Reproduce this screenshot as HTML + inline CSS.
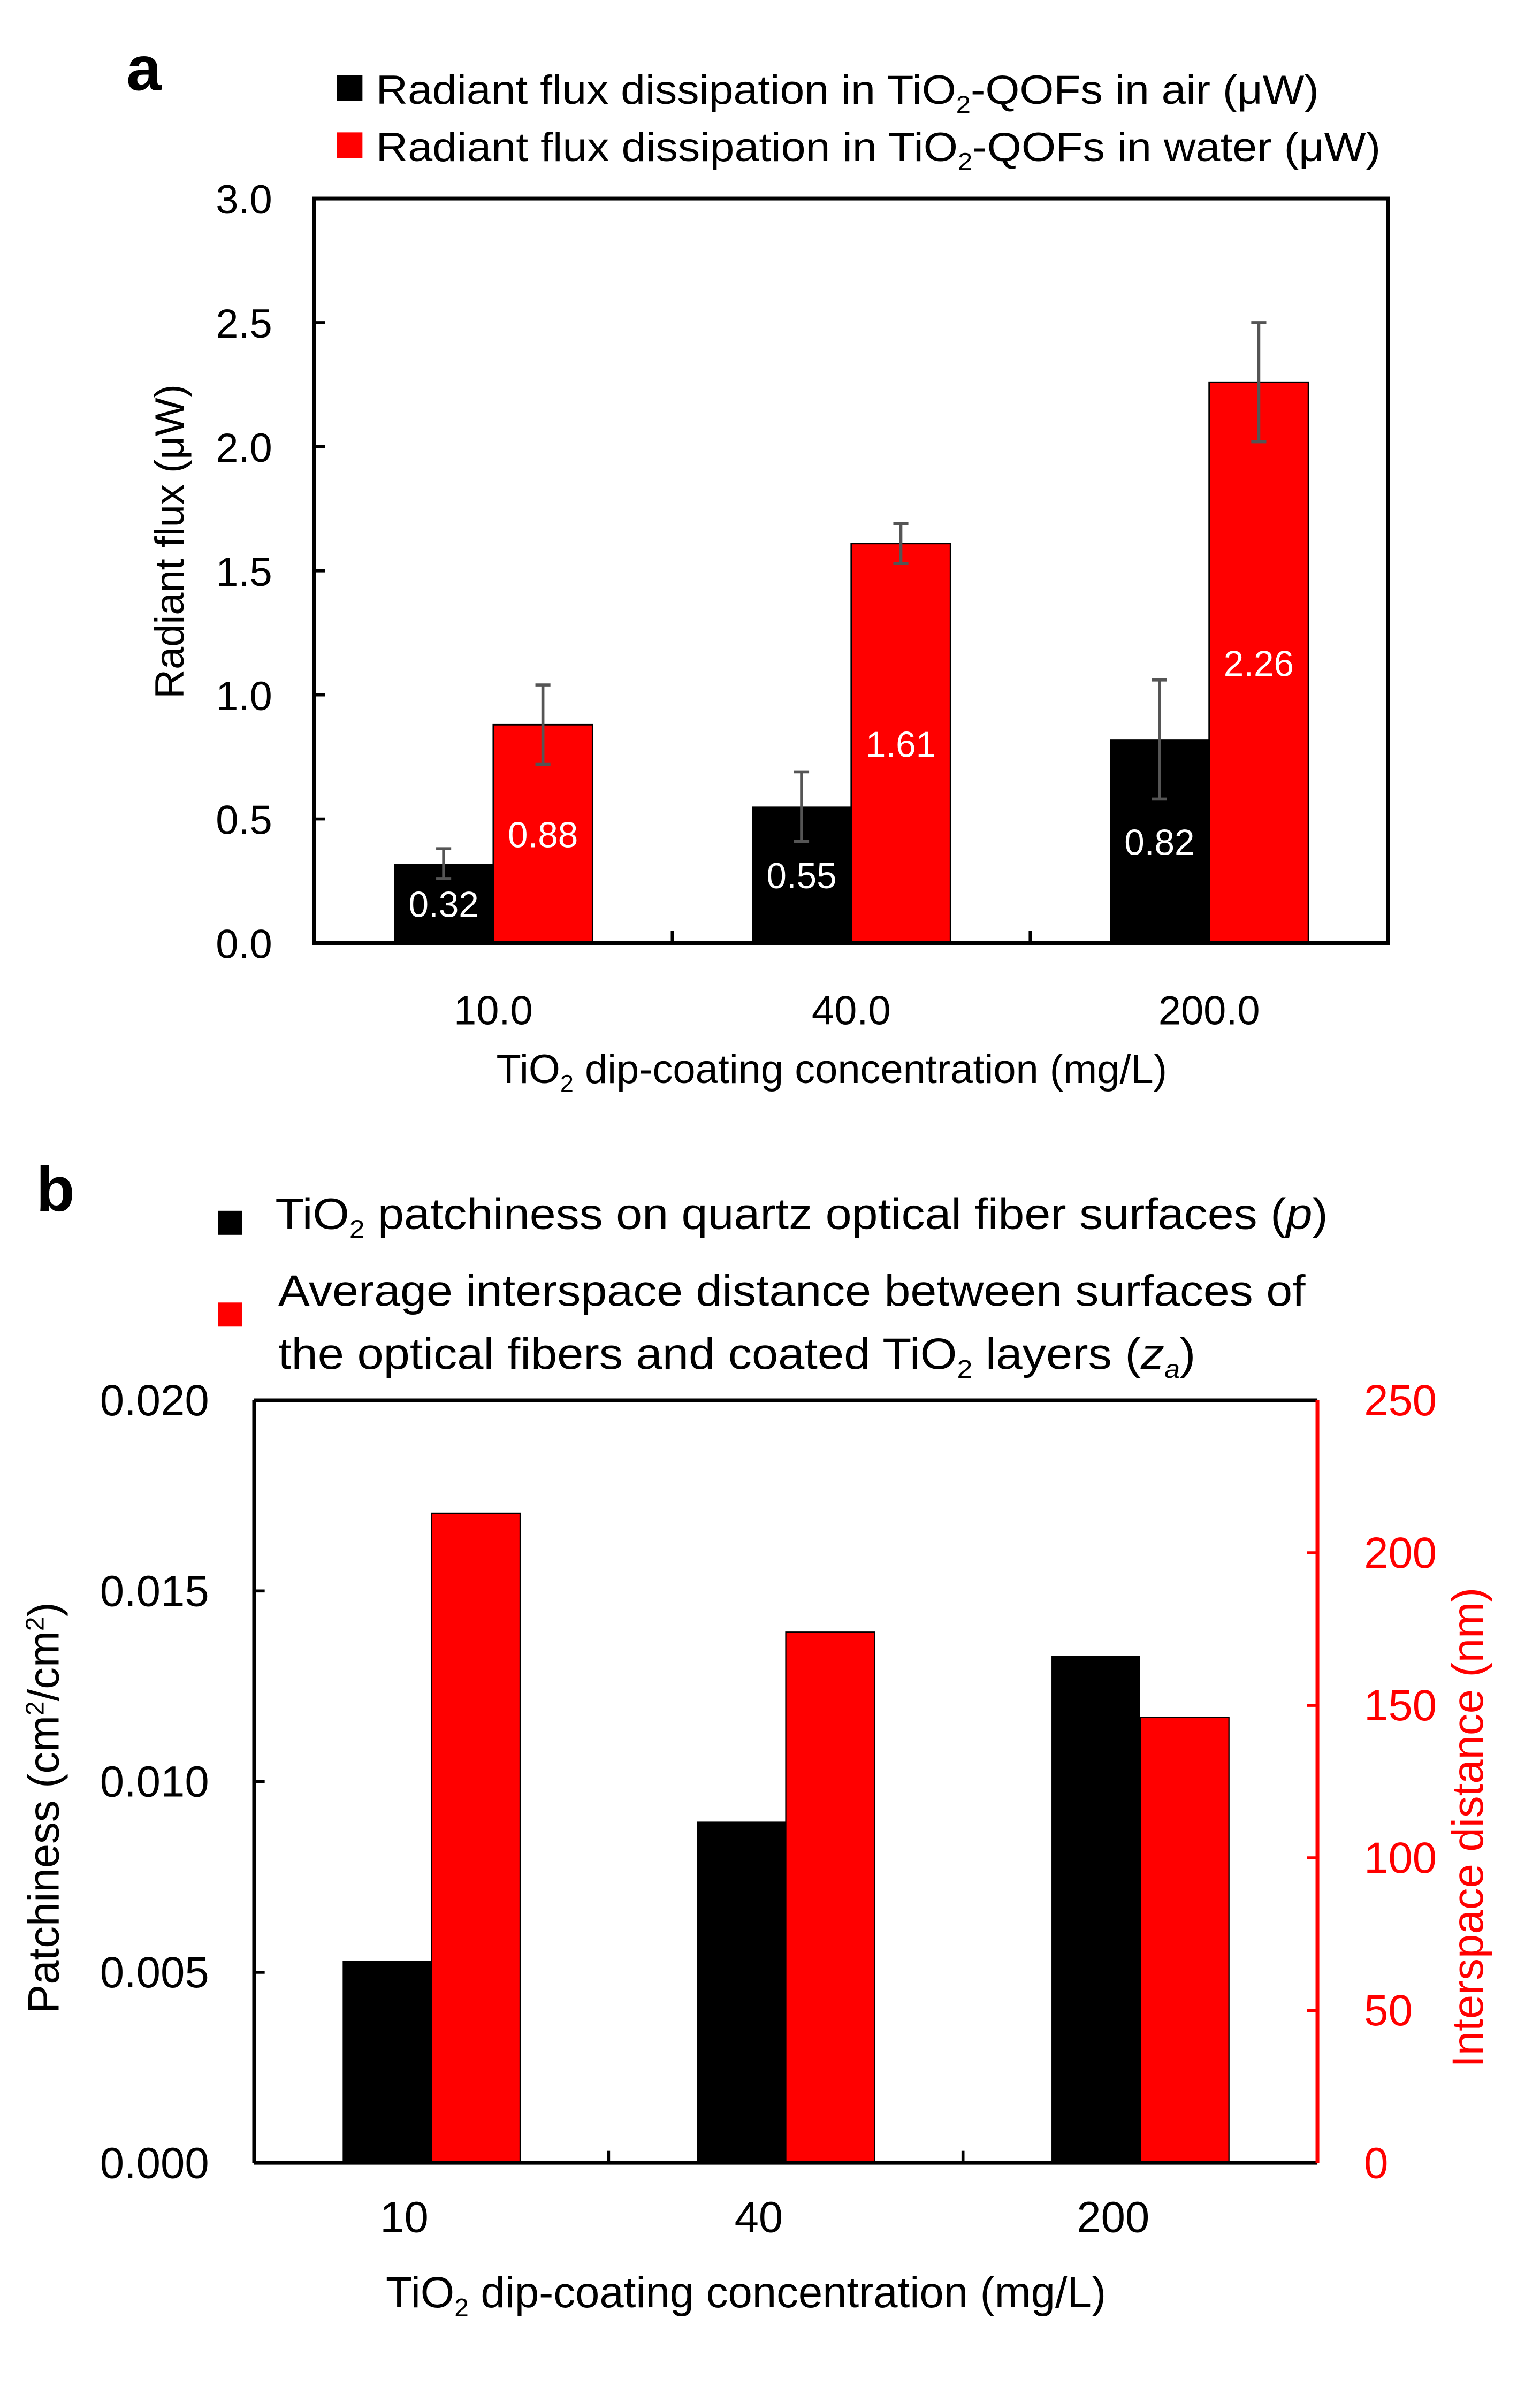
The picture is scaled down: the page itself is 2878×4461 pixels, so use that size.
<!DOCTYPE html>
<html><head><meta charset="utf-8"><style>
html,body{margin:0;padding:0;background:#fff;}
svg{display:block;font-family:"Liberation Sans",sans-serif;}
</style></head><body>
<svg id="fig" width="2878" height="4461" viewBox="0 0 1024 1587" preserveAspectRatio="none" xmlns="http://www.w3.org/2000/svg">
<rect width="1024" height="1587" fill="#fff"/>
<g id="ca"></g>
<g id="cb"></g>
</svg>
<script>
// Chart a data
const catsA = ["10.0","40.0","200.0"];
const airA = [0.32,0.55,0.82];
const airErrA = [0.06,0.14,0.24];
const waterA = [0.88,1.61,2.26];
const waterErrA = [0.16,0.08,0.24];
const ticksA = ["0.0","0.5","1.0","1.5","2.0","2.5","3.0"];
// Chart b data
const catsB = ["10","40","200"];
const patchB = [0.0053,0.00895,0.0133];
const interB = [213,174,146];
const ticksBL = ["0.000","0.005","0.010","0.015","0.020"];
const ticksBR = ["0","50","100","150","200","250"];

const NS="http://www.w3.org/2000/svg";
function mk(parent,tag,attrs,text){const e=document.createElementNS(NS,tag);for(const k in attrs)e.setAttribute(k,attrs[k]);if(text!==undefined)e.textContent=text;parent.appendChild(e);return e;}

// ---- Chart a ----
const A=document.getElementById('ca');
const aL=209,aR=923,aT=132,aB=627,aMax=3.0;
const yA=v=>aB-(v/aMax)*(aB-aT);
const gwA=(aR-aL)/catsA.length, bwA=66;
const xcA=i=>aL+gwA*(i+0.5);
let t=mk(A,'text',{x:84,y:60,'font-size':42,'font-weight':'bold'},'a');

let r=mk(A,'rect',{x:224,y:50,width:17,height:17,fill:'#000'});

t=mk(A,'text',{x:250,y:69,'font-size':27,textLength:627,lengthAdjust:'spacingAndGlyphs'});
t.innerHTML='Radiant flux dissipation in TiO<tspan font-size="16" dy="6">2</tspan><tspan dy="-6">-QOFs in air (μW)</tspan>';

r=mk(A,'rect',{x:224,y:88,width:17,height:17,fill:'#f00'});

t=mk(A,'text',{x:250,y:107,'font-size':27,textLength:668,lengthAdjust:'spacingAndGlyphs'});
t.innerHTML='Radiant flux dissipation in TiO<tspan font-size="16" dy="6">2</tspan><tspan dy="-6">-QOFs in water (μW)</tspan>';

catsA.forEach((c,i)=>{
  const x0=xcA(i)-bwA;
  let b=mk(A,'rect',{x:x0,y:yA(airA[i]),width:bwA,height:aB-yA(airA[i]),fill:'#000'});
  
  b=mk(A,'rect',{x:xcA(i),y:yA(waterA[i]),width:bwA,height:aB-yA(waterA[i]),fill:'#f00',stroke:'#000','stroke-width':1});
  
  [[airA,airErrA,x0+bwA/2],[waterA,waterErrA,xcA(i)+bwA/2]].forEach(([v,e,x],k)=>{
    const g=mk(A,'g',{stroke:'#555','stroke-width':2});
    
    mk(g,'line',{x1:x,x2:x,y1:yA(v[i]+e[i]),y2:yA(v[i]-e[i])});
    mk(g,'line',{x1:x-5,x2:x+5,y1:yA(v[i]+e[i]),y2:yA(v[i]+e[i])});
    mk(g,'line',{x1:x-5,x2:x+5,y1:yA(v[i]-e[i]),y2:yA(v[i]-e[i])});
    const lbl=mk(A,'text',{x:x,y:(yA(v[i])+aB)/2+9,'font-size':24,fill:'#fff','text-anchor':'middle'},v[i].toFixed(2));
    
  });
  const xl=mk(A,'text',{x:xcA(i),y:681,'font-size':27,'text-anchor':'middle'},c);
  
  if(i>0){mk(A,'line',{x1:aL+gwA*i,x2:aL+gwA*i,y1:aB,y2:aB-8,stroke:'#000','stroke-width':2});}
});
ticksA.forEach(s=>{
  const v=parseFloat(s);
  mk(A,'line',{x1:aL,x2:aL+7,y1:yA(v),y2:yA(v),stroke:'#000','stroke-width':2});
  const tl=mk(A,'text',{x:181,y:yA(v)+10,'font-size':27,'text-anchor':'end'},s);
  
});
let box=mk(A,'rect',{x:aL,y:aT,width:aR-aL,height:aB-aT,fill:'none',stroke:'#000','stroke-width':2.5});

t=mk(A,'text',{x:0,y:0,'font-size':27,'text-anchor':'middle',transform:'translate(122,360) rotate(-90)'},'Radiant flux (μW)');

t=mk(A,'text',{x:553,y:720,'font-size':27,'text-anchor':'middle'});
t.innerHTML='TiO<tspan font-size="16" dy="6">2</tspan><tspan dy="-6"> dip-coating concentration (mg/L)</tspan>';


// ---- Chart b ----
const B=document.getElementById('cb');
const bL=169,bR=876,bT=931,bB=1438;
const yBL=v=>bB-(v/0.02)*(bB-bT);
const yBR=v=>bB-(v/250)*(bB-bT);
const gwB=(bR-bL)/catsB.length,bwB=59;
const xcB=i=>bL+gwB*(i+0.5);
t=mk(B,'text',{x:24,y:805,'font-size':42,'font-weight':'bold'},'b');

r=mk(B,'rect',{x:145,y:805,width:16,height:16,fill:'#000'});

t=mk(B,'text',{x:183,y:817,'font-size':29,textLength:700,lengthAdjust:'spacingAndGlyphs'});
t.innerHTML='TiO<tspan font-size="17" dy="6">2</tspan><tspan dy="-6"> patchiness on quartz optical fiber surfaces (</tspan><tspan font-style="italic">p</tspan>)';

r=mk(B,'rect',{x:145,y:866,width:16,height:16,fill:'#f00'});

t=mk(B,'text',{x:185,y:868,'font-size':29,textLength:683,lengthAdjust:'spacingAndGlyphs'},'Average interspace distance between surfaces of');

t=mk(B,'text',{x:185,y:910,'font-size':29,textLength:610,lengthAdjust:'spacingAndGlyphs'});
t.innerHTML='the optical fibers and coated TiO<tspan font-size="17" dy="6">2</tspan><tspan dy="-6"> layers (</tspan><tspan font-style="italic">z</tspan><tspan font-style="italic" font-size="17" dy="6">a</tspan><tspan dy="-6">)</tspan>';

catsB.forEach((c,i)=>{
  let b=mk(B,'rect',{x:xcB(i)-bwB,y:yBL(patchB[i]),width:bwB,height:bB-yBL(patchB[i]),fill:'#000'});
  
  b=mk(B,'rect',{x:xcB(i),y:yBR(interB[i]),width:bwB,height:bB-yBR(interB[i]),fill:'#f00',stroke:'#000','stroke-width':0.8});
  
  const xl=mk(B,'text',{x:xcB(i)-18,y:1484,'font-size':29,'text-anchor':'middle'},c);
  
  if(i>0){mk(B,'line',{x1:bL+gwB*i,x2:bL+gwB*i,y1:bB,y2:bB-8,stroke:'#000','stroke-width':2});}
});
ticksBL.forEach(s=>{
  const v=parseFloat(s);
  mk(B,'line',{x1:bL,x2:bL+7,y1:yBL(v),y2:yBL(v),stroke:'#000','stroke-width':2});
  const tl=mk(B,'text',{x:139,y:yBL(v)+10,'font-size':29,'text-anchor':'end'},s);
  
});
ticksBR.forEach(s=>{
  const v=parseFloat(s);
  mk(B,'line',{x1:bR,x2:bR-7,y1:yBR(v),y2:yBR(v),stroke:'#f00','stroke-width':2});
  const tl=mk(B,'text',{x:907,y:yBR(v)+10,'font-size':29,fill:'#f00'},s);
  
});
mk(B,'line',{x1:bL,x2:bR,y1:bT,y2:bT,stroke:'#000','stroke-width':2.5});
mk(B,'line',{x1:bL,x2:bL,y1:bT,y2:bB,stroke:'#000','stroke-width':2.5});
mk(B,'line',{x1:bL,x2:bR,y1:bB,y2:bB,stroke:'#000','stroke-width':2.5});
let ra=mk(B,'line',{x1:bR,x2:bR,y1:bT,y2:bB,stroke:'#f00','stroke-width':2.5});

t=mk(B,'text',{x:0,y:0,'font-size':29,'text-anchor':'middle',transform:'translate(39,1202) rotate(-90)'});
t.innerHTML='Patchiness (cm<tspan font-size="17" dy="-10">2</tspan><tspan dy="10">/cm</tspan><tspan font-size="17" dy="-10">2</tspan><tspan dy="10">)</tspan>';

t=mk(B,'text',{x:0,y:0,'font-size':29,fill:'#f00','text-anchor':'middle',transform:'translate(986,1215) rotate(-90)'},'Interspace distance (nm)');

t=mk(B,'text',{x:496,y:1534,'font-size':29,'text-anchor':'middle'});
t.innerHTML='TiO<tspan font-size="17" dy="6">2</tspan><tspan dy="-6"> dip-coating concentration (mg/L)</tspan>';

</script>
</body></html>
